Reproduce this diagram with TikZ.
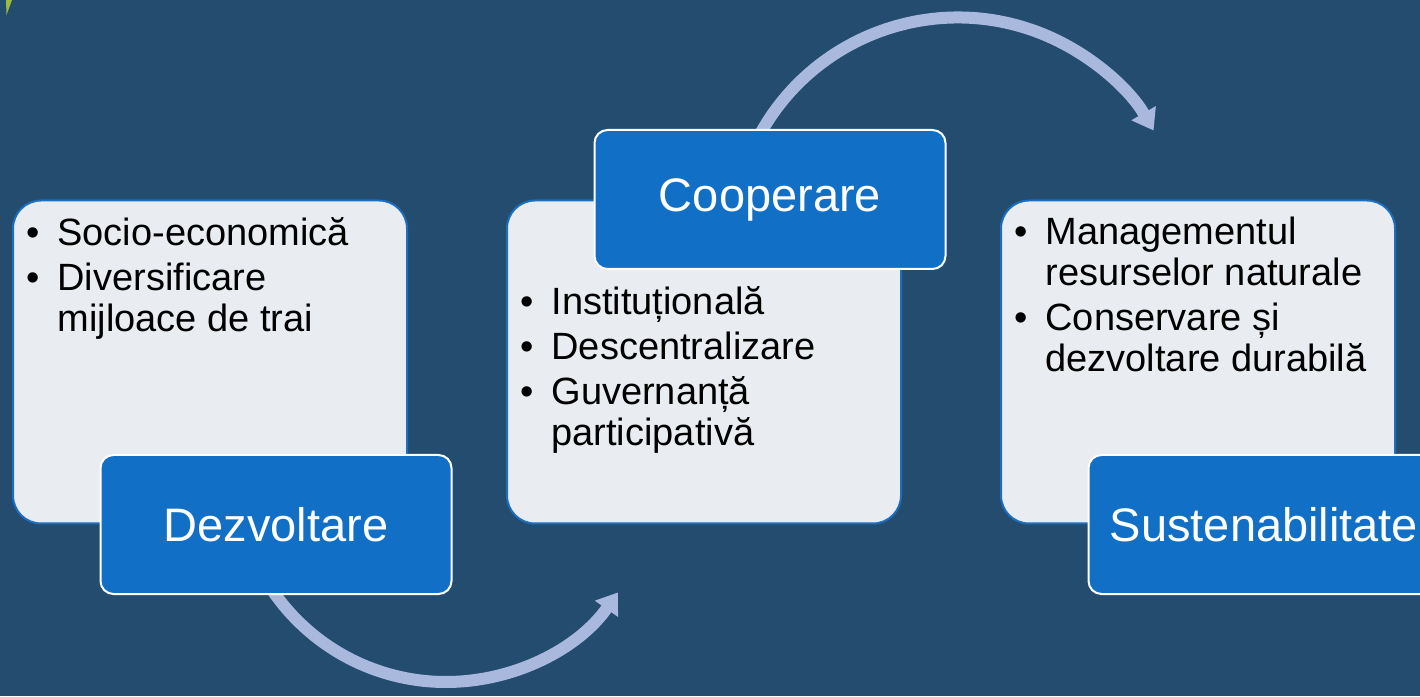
\documentclass[tikz,border=0pt]{standalone}
\usepackage{fontspec}
\setmainfont{Liberation Sans}
\usetikzlibrary{arrows.meta,positioning}
\definecolor{slidebg}{RGB}{36,76,111}
\definecolor{panelfill}{RGB}{233,236,240}
\definecolor{panelline}{RGB}{28,110,190}
\definecolor{tagfill}{RGB}{17,112,198}
\definecolor{arcblue}{RGB}{169,184,221}
\definecolor{accent}{RGB}{155,187,59}
\newcommand{\bulletlist}[1]{\begin{tabular}{@{}l@{\hspace{18pt}}l@{}}#1\end{tabular}}

\begin{document}
\begin{tikzpicture}[x=1pt, y=1pt,
  panel/.style={draw=panelline, line width=2pt, fill=panelfill, rounded corners=28pt, minimum width=394pt, minimum height=323pt, inner sep=0pt},
  tag/.style={draw=white, line width=2pt, fill=tagfill, rounded corners=13pt, minimum width=351pt, minimum height=139pt, inner sep=0pt, text=white, font=\fontsize{47}{56}\selectfont},
  items/.style={anchor=north west, inner sep=0pt, font=\fontsize{38}{41}\selectfont},
  flowarc/.style={draw=arcblue, line width=12pt, -{Triangle[length=20pt, width=27pt]}}]
  \useasboundingbox (0,0) rectangle (1420,696);
  \clip (0,0) rectangle (1420,696);
  \fill[slidebg] (0,0) rectangle (1420,696);
  \fill[accent] (6,696) -- (12,696) -- (6.5,681) -- cycle;
  \coordinate (lowstart) at (264,119);
  \coordinate (highstart) at (753,548);
  \draw[flowarc] (lowstart) arc[start angle=-150, end angle=-35, radius=210];
  \draw[flowarc] (highstart) arc[start angle=155, end angle=30, radius=226];
  \node[panel] (devpanel) at (210,334) {};
  \node[panel, right=98pt of devpanel] (coppanel) {};
  \node[panel, right=98pt of coppanel] (suspanel) {};
  \node[items] (devlist) at ([shift={(14pt,-17pt)}]devpanel.north west)
    {\bulletlist{\textbullet & Socio-economică\\[4pt] \textbullet & Diversificare\\ & mijloace de trai}};
  \node[items] (coplist) at ([shift={(14pt,-86pt)}]coppanel.north west)
    {\bulletlist{\textbullet & Instituțională\\[4pt] \textbullet & Descentralizare\\[4pt] \textbullet & Guvernanță\\ & participativă}};
  \node[items] (suslist) at ([shift={(14pt,-16pt)}]suspanel.north west)
    {\bulletlist{\textbullet & Managementul\\ & resurselor naturale\\[4pt] \textbullet & Conservare și\\ & dezvoltare durabilă}};
  \node[tag] (devtag) at ([xshift=66pt]devpanel.south) {Dezvoltare};
  \node[tag] (coptag) at ([xshift=66pt]coppanel.north) {Cooperare};
  \node[tag] (sustag) at ([xshift=66pt]suspanel.south) {Sustenabilitate};
\end{tikzpicture}
\end{document}
